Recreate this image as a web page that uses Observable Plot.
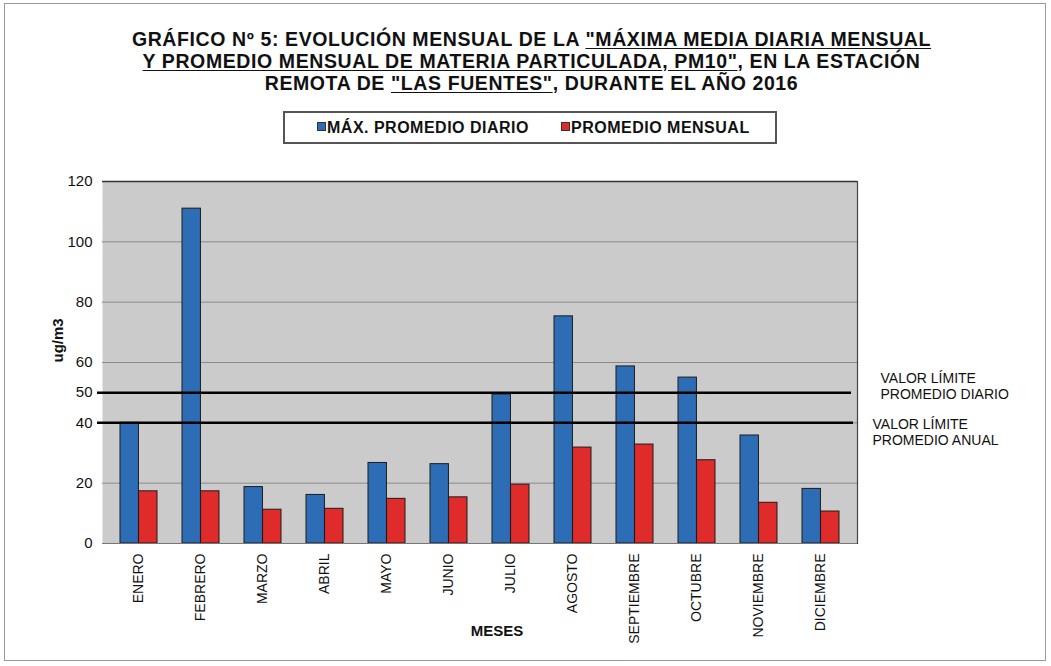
<!DOCTYPE html>
<html>
<head>
<meta charset="utf-8">
<script src="https://cdn.jsdelivr.net/npm/d3@7"></script>
<script src="https://cdn.jsdelivr.net/npm/@observablehq/plot@0.6"></script>
<style>
  html, body { margin: 0; padding: 0; background: #fff; }
  #wrap { position: relative; width: 1051px; height: 666px; overflow: hidden; font-family: "Liberation Sans", Arial, sans-serif; color: #111; }
  #border { position: absolute; left: 4px; top: 3px; width: 1040px; height: 656px; border: 1px solid #9a9a9a; }
  #title { position: absolute; left: 6px; top: 28px; width: 1051px; text-align: center; font-weight: bold; font-size: 19.5px; line-height: 22px; letter-spacing: 0.6px; }
  #title u { text-underline-offset: 2px; }
  #legend { position: absolute; left: 283px; top: 111px; width: 490px; height: 29px; border: 2px solid #555; background: #fff; font-weight: bold; font-size: 16px; letter-spacing: 0.5px; }
  .item { position: absolute; top: 6px; white-space: nowrap; }
  .sw { display: inline-block; width: 7px; height: 7px; border: 1px solid #333; margin-right: 1px; vertical-align: 2px; }
  #chart { position: absolute; left: 0; top: 150px; }
</style>
</head>
<body>
<div id="wrap">
  <div id="border"></div>
  <div id="title">
    GRÁFICO Nº 5: EVOLUCIÓN MENSUAL DE LA <u>"MÁXIMA MEDIA DIARIA MENSUAL</u><br>
    <u>Y PROMEDIO MENSUAL DE MATERIA PARTICULADA, PM10"</u>, EN LA ESTACIÓN<br>
    REMOTA DE <u>"LAS FUENTES"</u>, DURANTE EL AÑO 2016
  </div>
  <div id="legend"></div>
  <div id="chart"></div>
</div>
<script>
const months = ["ENERO", "FEBRERO", "MARZO", "ABRIL", "MAYO", "JUNIO", "JULIO", "AGOSTO", "SEPTIEMBRE", "OCTUBRE", "NOVIEMBRE", "DICIEMBRE"];
const maxDaily = [40, 111, 18.7, 16.1, 26.7, 26.3, 49.4, 75.3, 58.7, 55.0, 35.8, 18.1];
const monthlyMean = [17.3, 17.3, 11.2, 11.5, 14.8, 15.3, 19.5, 31.8, 32.8, 27.6, 13.5, 10.6];
const seriesNames = ["MÁX. PROMEDIO DIARIO", "PROMEDIO MENSUAL"];
const seriesColors = ["#2d6db5", "#e02b2b"];
const yTicks = [0, 20, 40, 50, 60, 80, 100, 120];
const gridTicks = [20, 40, 60, 80, 100, 120];
const limitDaily = [50];
const limitAnnual = [40];
const limitDailyLabel = ["VALOR LÍMITE\nPROMEDIO DIARIO"];
const limitAnnualLabel = ["VALOR LÍMITE\nPROMEDIO ANUAL"];

const rows = months.map((m, i) => ({month: m, max: maxDaily[i], mean: monthlyMean[i]}));

// legend
const legend = document.getElementById("legend");
const legendX = [32, 276];
seriesNames.forEach((name, i) => {
  const it = document.createElement("div");
  it.className = "item";
  it.style.left = legendX[i] + "px";
  it.innerHTML = `<span class="sw" style="background:${seriesColors[i]}"></span>${name}`;
  legend.appendChild(it);
});

const W = 1051, H = 516, mL = 102, mR = 194, mT = 31, mB = 123;
const pad = 0.41;
const step = (W - mL - mR) / months.length;
const half = step * (1 - pad) / 2;

const chart = Plot.plot({
  width: W, height: H,
  marginLeft: mL, marginRight: mR, marginTop: mT, marginBottom: mB,
  style: {background: "transparent", fontFamily: "Liberation Sans, Arial, sans-serif", color: "#111"},
  x: {domain: months, paddingInner: pad, paddingOuter: pad / 2, label: null},
  y: {domain: [0, 120], label: null},
  marks: [
    Plot.frame({fill: "#cbcbcb", stroke: null}),
    Plot.gridY(gridTicks, {stroke: "#8a8a8a", strokeOpacity: 1, strokeWidth: 1}),
    Plot.barY(rows, {x: "month", y: "max", fill: seriesColors[0], stroke: "#1c1c1c", strokeWidth: 1, insetRight: half}),
    Plot.barY(rows, {x: "month", y: "mean", fill: seriesColors[1], stroke: "#1c1c1c", strokeWidth: 1, insetLeft: half}),
    Plot.ruleY(limitDaily, {stroke: "#000", strokeWidth: 2.5, insetLeft: -5, insetRight: 6}),
    Plot.ruleY(limitAnnual, {stroke: "#000", strokeWidth: 2.5, insetLeft: -5, insetRight: 4}),
    Plot.ruleY([0], {stroke: "#777", strokeWidth: 1}),
    Plot.ruleY([120], {stroke: "#333", strokeWidth: 1.5}),
    Plot.frame({anchor: "right", stroke: "#444", strokeWidth: 1.2}),
    Plot.axisY({ticks: yTicks, tickSize: 0, tickPadding: 10, fontSize: 15, label: null}),
    Plot.axisX({tickRotate: -90, tickSize: 0, tickPadding: 10, fontSize: 14, label: null}),
    Plot.text(limitDaily, {y: d => d, text: () => limitDailyLabel[0], frameAnchor: "right", textAnchor: "start", dx: 23, dy: -7, fontSize: 14, lineHeight: 1.15, letterSpacing: "-0.3px"}),
    Plot.text(limitAnnual, {y: d => d, text: () => limitAnnualLabel[0], frameAnchor: "right", textAnchor: "start", dx: 15, dy: 9, fontSize: 14, lineHeight: 1.15, letterSpacing: "-0.3px"}),
    Plot.text(["ug/m3"], {frameAnchor: "left", dx: -44, rotate: -90, fontWeight: "bold", fontSize: 15}),
    Plot.text(["MESES"], {frameAnchor: "bottom", dx: 17, dy: 92, fontWeight: "bold", fontSize: 15})
  ]
});
document.getElementById("chart").appendChild(chart);
</script>
</body>
</html>
